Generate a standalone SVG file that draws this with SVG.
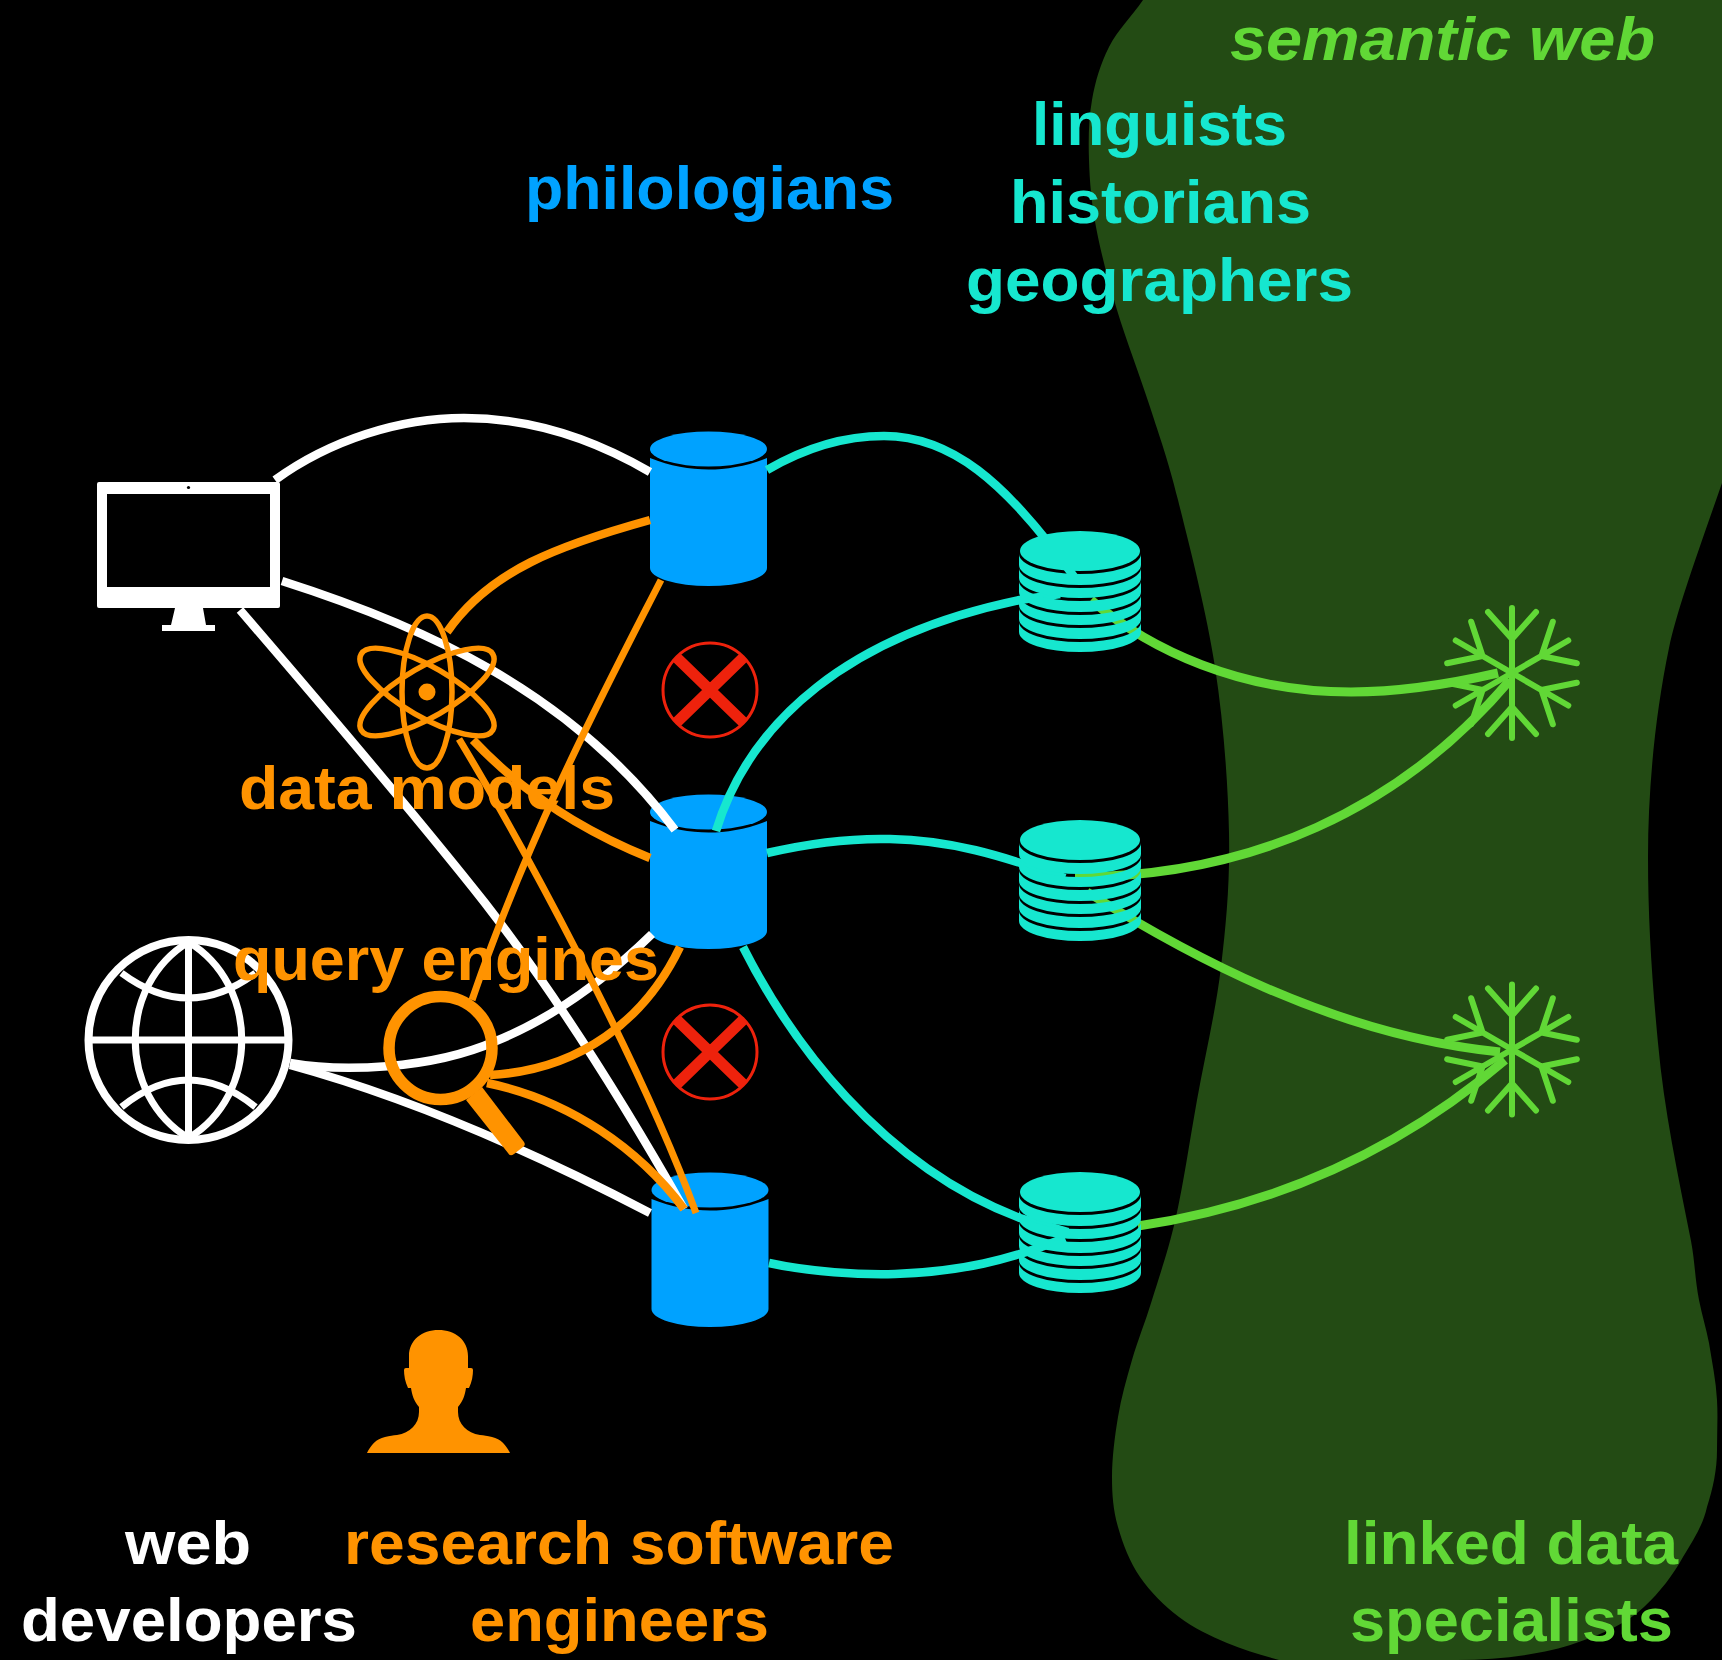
<svg xmlns="http://www.w3.org/2000/svg" xmlns:xlink="http://www.w3.org/1999/xlink" width="1722" height="1660" viewBox="0 0 1722 1660">
<style>
.c{fill:none;stroke-linecap:butt}
.w{stroke:#fff;stroke-width:8.5}
.o{stroke:#ff9300;stroke-width:8.5}
.n{stroke-width:7}
.t{stroke:#16e7cf;stroke-width:8.5}
.g{stroke:#61d836;stroke-width:9}
text{font-family:"Liberation Sans",Arial,sans-serif;font-weight:700;font-size:62px}
.tw{fill:#fff}.to{fill:#ff9300}.tb{fill:#00a2ff}.tt{fill:#16e7cf}.tg{fill:#61d836}
</style>
<defs>
<g id="cyl" fill="#00a2ff">
<ellipse cx="58.5" cy="18" rx="58.5" ry="17.5"/>
<path d="M0 27C20 35 40 38.500 58.500 38.500C77 38.500 97 35 117 27V137A58.500 18 0 0 1 0 137Z"/>
</g>
<g id="stk" fill="#16e7cf">
<ellipse cx="0" cy="20" rx="60" ry="20"/>
<path d="M-61 23A61 20 0 0 0 61 23V34A61 20 0 0 1 -61 34Z"/>
<path d="M-61 37A61 20 0 0 0 61 37V47A61 20 0 0 1 -61 47Z"/>
<path d="M-61 50A61 20 0 0 0 61 50V61A61 20 0 0 1 -61 61Z"/>
<path d="M-61 64A61 20 0 0 0 61 64V74A61 20 0 0 1 -61 74Z"/>
<path d="M-61 77A61 20 0 0 0 61 77V88A61 20 0 0 1 -61 88Z"/>
<path d="M-61 91A61 20 0 0 0 61 91V101A61 20 0 0 1 -61 101Z"/>
</g>
<g id="arm"><path d="M0 0V-65M-24 -61L0 -34L24 -61"/></g>
<g id="flake" fill="none" stroke="#61d836" stroke-width="6" stroke-linecap="round" stroke-linejoin="round">
<use href="#arm"/><use href="#arm" transform="rotate(60)"/><use href="#arm" transform="rotate(120)"/><use href="#arm" transform="rotate(180)"/><use href="#arm" transform="rotate(240)"/><use href="#arm" transform="rotate(300)"/>
</g>
<g id="xmark" fill="none" stroke="#ee220c">
<circle r="47" stroke-width="3"/>
<path d="M-34 -33L34 33M34 -33L-34 33" stroke-width="11"/>
</g>
</defs>
<rect width="1722" height="1660" fill="#000"/>
<path id="semantic-web-area" fill="#234b14" d="M1143 0C1132 16 1117.500 30.300 1109 47C1100.500 63.700 1095.300 81.200 1092 100C1088.700 118.800 1088.300 138.800 1089 160C1089.700 181.200 1091.300 202 1096 227C1100.700 252 1108 280 1117 310C1126 340 1139.800 375.300 1150 407C1160.200 438.700 1167.200 456.700 1178 500C1188.800 543.300 1206.500 611.500 1215 667C1223.500 722.500 1228 783 1229 833C1230 883 1226.300 922.500 1221 967C1215.700 1011.500 1204.500 1058.300 1197 1100C1189.500 1141.700 1183.500 1183.700 1176 1217C1168.500 1250.300 1159.300 1276.200 1152 1300C1144.700 1323.800 1137.700 1340.500 1132 1360C1126.300 1379.500 1121.300 1397.500 1118 1417C1114.700 1436.500 1112 1458.700 1112 1477C1112 1495.300 1113.300 1510.300 1118 1527C1122.700 1543.700 1129.800 1562 1140 1577C1150.200 1592 1164.500 1606 1179 1617C1193.500 1628 1210.300 1635.800 1227 1643C1243.700 1650.200 1262 1655 1279 1660H1457C1500 1660 1545 1654 1576 1643C1605 1633 1627 1623 1644 1607C1660 1592 1673 1575 1683 1557C1694 1539 1703 1525 1707 1507C1713 1488 1717 1470 1717 1450C1717 1433 1718 1417 1717 1400C1716 1381 1712 1362 1709 1343C1706 1328 1702 1315 1699 1300C1695 1280 1695 1262 1691 1241C1678 1175 1664 1110 1658 1043C1652 980 1648 920 1648 857C1648 790 1655 715 1669 648C1677 610 1697 555 1722 483V0Z"/>
<g id="db-1"><use href="#cyl" x="650" y="431"/></g>
<g id="db-2"><use href="#cyl" x="650" y="794"/></g>
<g id="db-3"><use href="#cyl" x="651.5" y="1172"/></g>
<g id="connectors" class="c">
<path class="c w" d="M275 480C330 440 400 418 464 418C530 418 590 437 650 472"/>
<path class="c w" d="M282 581C420 625 570 690 675 830"/>
<path class="c w" d="M240 610C320 703 410 808 485 903C560 1000 625 1105 684 1209"/>
<path class="c w" d="M290 1063C340 1072 430 1070 496 1041C560 1015 610 975 652 934"/>
<path class="c w" d="M290 1065C400 1095 520 1145 650 1213"/>
<path class="c o" d="M650 520C560 545 490 570 447 632"/>
<path class="c o n" d="M661 580C610 680 530 830 472 1000"/>
<path class="c o" d="M473 740C520 790 580 830 650 858"/>
<path class="c o n" d="M459 739C520 840 640 1060 696 1213"/>
<path class="c o" d="M680 947C645 1020 580 1070 490 1075"/>
<path class="c o" d="M487 1083C570 1100 640 1150 684 1209"/>
<path class="c t" d="M767 470C810 445 850 436 884 436C950 436 1005 480 1075 578"/>
<path class="c t" d="M716 831C750 720 850 635 1020 600L1060 594"/>
<path class="c t" d="M767 853C810 843 850 838 890 839C950 840 1000 855 1065 878"/>
<path class="c t" d="M743 947C790 1040 880 1165 1020 1218L1068 1232"/>
<path class="c t" d="M769 1263C810 1272 860 1275 895 1274C960 1272 1010 1260 1065 1238"/>
<path class="c g" d="M1091 600C1150 650 1240 692 1351 692C1400 692 1450 684 1498 673"/>
<path class="c g" d="M1075 877C1250 877 1400 810 1510 680"/>
<path class="c g" d="M1087 892C1180 950 1330 1035 1500 1052"/>
<path class="c g" d="M1138 1226C1280 1205 1400 1150 1505 1060"/>
</g>
<g id="stack-1"><use href="#stk" x="1080" y="531"/></g>
<g id="stack-2"><use href="#stk" x="1080" y="820"/></g>
<g id="stack-3"><use href="#stk" x="1080" y="1172"/></g>
<g id="snowflake-1"><use href="#flake" transform="translate(1512 673)"/></g>
<g id="snowflake-2"><use href="#flake" transform="translate(1512 1049.5)"/></g>
<g id="cross-1"><use href="#xmark" transform="translate(710 690)"/></g>
<g id="cross-2"><use href="#xmark" transform="translate(710 1052)"/></g>
<g id="monitor">
<path fill="#fff" fill-rule="evenodd" d="M99 482H278Q280 482 280 484V606Q280 608 278 608H99Q97 608 97 606V484Q97 482 99 482ZM107 494V587H270V494Z"/>
<circle cx="188.5" cy="487.5" r="1.6" fill="#000"/>
<path fill="#fff" d="M175 608H203L206 625H215V631H162V625H171Z"/>
</g>
<g id="atom" fill="none" stroke="#ff9300" stroke-width="5.5">
<ellipse cx="427" cy="692" rx="25" ry="76"/>
<ellipse cx="427" cy="692" rx="25" ry="76" transform="rotate(60 427 692)"/>
<ellipse cx="427" cy="692" rx="25" ry="76" transform="rotate(-60 427 692)"/>
<circle cx="427" cy="692" r="8.5" fill="#ff9300" stroke="none"/>
</g>
<g id="globe" fill="none" stroke="#fff" stroke-width="7">
<circle cx="188.5" cy="1040" r="100" stroke-width="8"/>
<path d="M188.500 942C117.500 985 117.500 1095 188.500 1138C259.500 1095 259.500 985 188.500 942Z"/>
<path d="M188.500 940V1140M88.500 1040H288.500M121.500 973Q188.500 1023 255.500 973M121.500 1107Q188.500 1053 255.500 1107"/>
</g>
<g id="magnifier">
<circle cx="440.5" cy="1048" r="51.5" fill="none" stroke="#ff9300" stroke-width="11.5"/>
<path fill="#ff9300" d="M466 1100L482 1087L524 1142Q526 1145 523 1147L514 1154Q510 1157 508 1153Z"/>
</g>
<g id="person"><path fill="#ff9300" d="M367 1453C371 1445 376 1439 385 1437C390 1435.500 393 1435.500 397 1435C410 1433 419 1424 419 1412V1407C414 1401 412 1395 411 1388H408C405 1382 404 1375 404 1370Q404 1368 406 1368H409V1356C409 1340 422 1330 438.500 1330C455 1330 468 1340 468 1356V1368H471Q473 1368 473 1370C473 1375 472 1382 469 1388H466C465 1395 463 1401 458 1407V1412C458 1424 467 1433 480 1435C484 1435.500 487 1435.500 492 1437C501 1439 506 1445 510 1453Z"/></g>
<g id="labels">
<text class="tg" x="1230" y="60" style="font-style:italic" textLength="425" lengthAdjust="spacingAndGlyphs">semantic web</text>
<text class="tt" x="1032" y="145" textLength="255" lengthAdjust="spacingAndGlyphs">linguists</text>
<text class="tt" x="1010" y="223" textLength="301" lengthAdjust="spacingAndGlyphs">historians</text>
<text class="tt" x="966" y="301" textLength="387" lengthAdjust="spacingAndGlyphs">geographers</text>
<text class="tb" x="525" y="209" textLength="369" lengthAdjust="spacingAndGlyphs">philologians</text>
<text class="to" x="239" y="809" textLength="376" lengthAdjust="spacingAndGlyphs">data models</text>
<text class="to" x="233" y="980" textLength="426" lengthAdjust="spacingAndGlyphs">query engines</text>
<text class="tw" x="125" y="1564" textLength="126" lengthAdjust="spacingAndGlyphs">web</text>
<text class="tw" x="21" y="1641" textLength="336" lengthAdjust="spacingAndGlyphs">developers</text>
<text class="to" x="344" y="1564" textLength="550" lengthAdjust="spacingAndGlyphs">research software</text>
<text class="to" x="470" y="1641" textLength="299" lengthAdjust="spacingAndGlyphs">engineers</text>
<text class="tg" x="1344" y="1564" textLength="334" lengthAdjust="spacingAndGlyphs">linked data</text>
<text class="tg" x="1350" y="1641" textLength="323" lengthAdjust="spacingAndGlyphs">specialists</text>
</g>
</svg>
